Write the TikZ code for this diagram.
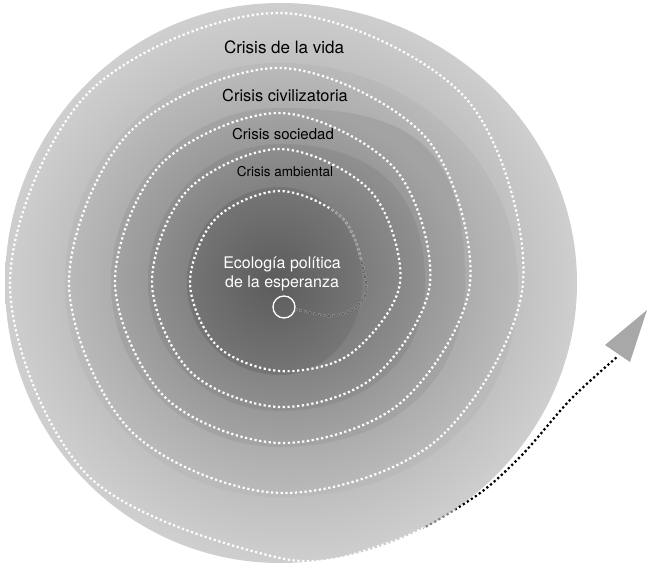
\documentclass[tikz,border=0pt]{standalone}
\usepackage{fontspec}
\setmainfont{TeX Gyre Heros}
\definecolor{gai}{gray}{0.55}\definecolor{gao}{gray}{0.81}
\definecolor{gbi}{gray}{0.50}\definecolor{gbo}{gray}{0.73}
\definecolor{gci}{gray}{0.45}\definecolor{gco}{gray}{0.64}
\definecolor{gdi}{gray}{0.40}\definecolor{gdo}{gray}{0.56}
\definecolor{gei}{gray}{0.36}\definecolor{geo}{gray}{0.46}
\definecolor{arrowgray}{gray}{0.66}
\tikzset{
  dots/.style={line width=2.2pt, dash pattern=on 2.2pt off 2.6pt},
  lbl/.style={inner sep=0pt, anchor=center, text=black},
}
\def\spiralpts{(295,309) (330,316) (356,307) (366,283) (343.6,219.4) (280,191) (215.7,218.7) (190,283) (217.1,345.9) (280,371) (350.7,353.7) (400,283) (371.2,191.8) (280,149) (187.4,190.4) (152,283) (190.9,372.1) (280,407) (374,377) (430,283) (394.6,168.4) (280,113) (161.2,164.2) (115,283) (165.4,397.6) (280,443) (400.2,403.2) (470,283) (425.7,137.3) (280,68) (129.4,132.4) (69,283) (131.5,431.5) (280,493) (437,440) (523,283) (465.3,97.7) (280,13) (89.1,92.1) (10,283) (87.7,475.3) (280,558) (388,543) (470,500) (520,457) (570,400) (617,357)}
\newcommand\spiraldraw[1]{\edef\tmpsp{\noexpand\draw[#1] plot[smooth,tension=0.55] coordinates {\spiralpts};}\tmpsp}
\begin{document}
\begin{tikzpicture}[x=1pt,y=-1pt]
\useasboundingbox (0,0) rectangle (650,564);
% nested discs: left half hugs a turn of the spiral, right half bulges out
\shade[inner color=gai, outer color=gao] (280,3)
  arc[start angle=270,end angle=90,x radius=275,y radius=280]
  .. controls (444,563) and (577,437.6) .. (577,283)
  .. controls (577,128.4) and (444,3) .. cycle;
\shade[inner color=gbi, outer color=gbo] (280,63)
  arc[start angle=270,end angle=180,x radius=215,y radius=220]
  arc[start angle=180,end angle=90,x radius=215,y radius=214]
  .. controls (422.8,497) and (518,411.4) .. (518,283)
  .. controls (518,161.6) and (411.4,63) .. cycle;
\shade[inner color=gci, outer color=gco] (280,108)
  arc[start angle=270,end angle=180,x radius=169,y radius=175]
  arc[start angle=180,end angle=90,x radius=169,y radius=164]
  .. controls (391,447) and (465,381.4) .. (465,283)
  .. controls (465,151.8) and (418.8,108) .. cycle;
\shade[inner color=gdi, outer color=gdo] (280,144)
  arc[start angle=270,end angle=180,x radius=132,y radius=139]
  arc[start angle=180,end angle=90,x radius=132,y radius=128]
  .. controls (367,411) and (425,359.8) .. (425,283)
  .. controls (425,192.7) and (374.3,144) .. cycle;
\shade[inner color=gei, outer color=geo] (280,187)
  arc[start angle=270,end angle=180,x radius=93,y radius=96]
  arc[start angle=180,end angle=90,x radius=93,y radius=92]
  .. controls (326,375) and (362,333.8) .. (362,283)
  .. controls (362,230) and (325.3,187) .. cycle;
% dotted spiral
\spiraldraw{dots, draw=white}
\begin{scope}
  \clip (290,300) -- (290,335) -- (350,335) -- (375,300) -- (375,262) -- (330,262) -- cycle;
  \spiraldraw{dots, draw=black!62}
\end{scope}
\begin{scope}
  \clip (330,262) -- (372,262) -- (362,205) -- (330,205) -- cycle;
  \spiraldraw{dots, draw=black!40}
\end{scope}
\begin{scope}
  \clip (420,564) -- (453,564) -- (456,500) -- (425,512) -- cycle;
  \spiraldraw{dots, draw=black!50}
\end{scope}
\begin{scope}
  \clip (453,564) -- (650,564) -- (650,250) -- (560,250) -- (550,370) -- (505,440) -- (456,500) -- cycle;
  \spiraldraw{dots, draw=black}
\end{scope}
\fill[arrowgray] (647,310) -- (605,345) -- (630,362) -- cycle;
% start circle
\node[circle, draw=white, line width=1.3pt, minimum size=22pt, inner sep=0pt] (start) at (284,307) {};
% labels
\node[lbl, font=\fontsize{17}{20}\selectfont] (vida) at (284,47) {Crisis de la vida};
\node[lbl, font=\fontsize{16.4}{20}\selectfont] (civ) at (285,96) {Crisis civilizatoria};
\node[lbl, font=\fontsize{15}{18}\selectfont] (soc) at (283,134) {Crisis sociedad};
\node[lbl, font=\fontsize{13.5}{16}\selectfont] (amb) at (285,172) {Crisis ambiental};
\node[lbl, text=white, align=center, font=\fontsize{16}{19.5}\selectfont] (eco) at (282,274) {Ecología política\\de la esperanza};
\end{tikzpicture}
\end{document}
